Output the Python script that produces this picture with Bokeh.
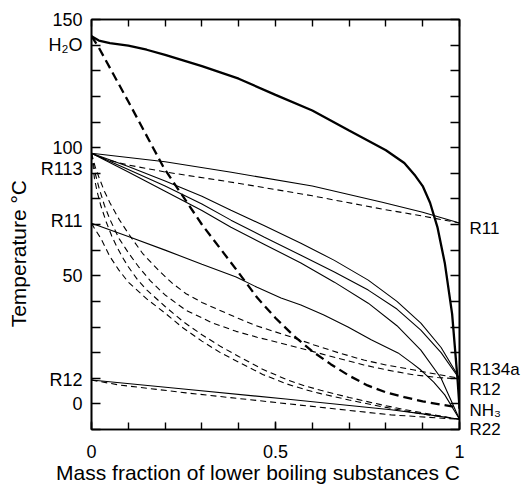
from bokeh.plotting import figure
from bokeh.models import Range1d, LinearAxis, FixedTicker
from bokeh.embed import file_html
from bokeh.resources import INLINE

# ---- data (mass fraction C, temperature degC) ----
x_h2o_liq = [0, 0.02, 0.05, 0.1, 0.15, 0.2, 0.3, 0.4, 0.5, 0.6, 0.7, 0.8, 0.85, 0.88, 0.9, 0.92, 0.94, 0.96, 0.98, 0.995, 1.0]
t_h2o_liq = [143.5, 141.8, 140.8, 139.8, 138.2, 136.2, 131.8, 126.9, 120.6, 114.5, 106.7, 99, 94, 89, 85, 78.5, 69, 55, 35, 9, -1.5]
x_h2o_vap = [0, 0.02, 0.1, 0.156, 0.197, 0.3, 0.393, 0.45, 0.5, 0.55, 0.6, 0.65, 0.7, 0.75, 0.8, 0.85, 0.9, 0.95, 1.0]
t_h2o_vap = [143.5, 139, 118, 103, 92, 70, 52.5, 41.5, 33.5, 26.5, 20.5, 15.5, 11, 7.2, 4.5, 2.6, 1.0, -0.3, -1.5]

x_r113_r11_liq = [0, 0.2, 0.38, 0.6, 0.79, 0.9, 1.0]
t_r113_r11_liq = [97.8, 94.5, 90.4, 85, 78.7, 74.8, 70.6]
x_r113_r11_vap = [0, 0.04, 0.1, 0.2, 0.39, 0.6, 0.79, 0.9, 1.0]
t_r113_r11_vap = [97.8, 95.3, 93.2, 90.5, 86.3, 81.2, 76, 73.3, 70.6]

x_r113_liq = [0, 0.1, 0.2, 0.3, 0.379, 0.47, 0.569, 0.66, 0.752, 0.83, 0.895, 0.95, 1.0]
t_r113_r134a_liq = [97.8, 92.6, 87, 81, 75.6, 69.5, 62.7, 56, 48.3, 40, 31.5, 22, 10]
t_r113_r12_liq = [97.8, 91.5, 85, 78, 71.7, 65, 58, 51.5, 44.4, 37, 28.8, 20, 9.7]
t_r113_r22_liq = [97.8, 90.5, 83, 75.5, 68.9, 62.2, 55, 47.5, 39.3, 30.5, 21, 10, -6]

x_r113_r134a_vap = [0, 0.01, 0.02, 0.035, 0.05, 0.075, 0.1, 0.14, 0.183, 0.22, 0.257, 0.3, 0.347, 0.4, 0.447, 0.528, 0.605, 0.67, 0.74, 0.8, 0.877, 0.94, 1.0]
t_r113_r134a_vap = [97.8, 92.5, 88.5, 83, 78.5, 72, 66.5, 58.5, 52, 47, 43, 39.6, 36.6, 33.3, 30.5, 26.8, 23, 20, 17.1, 15.2, 13.2, 11.5, 10]
x_r113_r12_vap = [0, 0.01, 0.02, 0.035, 0.05, 0.075, 0.1, 0.128, 0.16, 0.2, 0.257, 0.33, 0.393, 0.45, 0.515, 0.605, 0.67, 0.74, 0.8, 0.877, 0.94, 1.0]
t_r113_r12_vap = [97.8, 90, 84.5, 77.5, 72, 64.5, 59, 53.5, 48, 42.5, 36.5, 31.5, 28.3, 26, 23.7, 20.3, 17.8, 15.2, 13.3, 11.3, 10.3, 9.7]
x_r113_r22_vap = [0, 0.008, 0.015, 0.025, 0.04, 0.055, 0.07, 0.085, 0.1, 0.125, 0.15, 0.2, 0.25, 0.3, 0.35, 0.4, 0.465, 0.53, 0.58, 0.623, 0.7, 0.786, 0.85, 0.9, 0.95, 1.0]
t_r113_r22_vap = [97.8, 88, 83, 77.5, 71, 65.5, 61, 57, 53.5, 48.5, 44.5, 38, 32, 27, 22.5, 18.5, 13.5, 9.5, 7, 5.3, 2.5, -0.3, -2.2, -3.5, -4.8, -6]

x_r11_r22_liq = [0, 0.1, 0.2, 0.3, 0.393, 0.45, 0.515, 0.569, 0.63, 0.697, 0.76, 0.833, 0.87, 0.895, 0.93, 0.96, 1.0]
t_r11_r22_liq = [70.5, 65.3, 60, 54.5, 49.5, 45.5, 41.3, 38.6, 34.8, 30, 25, 19.9, 16, 13.2, 8.5, 3.5, -6]
x_r11_r22_vap = [0, 0.01, 0.025, 0.05, 0.074, 0.1, 0.15, 0.2, 0.25, 0.3, 0.35, 0.4, 0.465, 0.53, 0.58, 0.623, 0.7, 0.786, 0.85, 0.9, 0.95, 1.0]
t_r11_r22_vap = [70.5, 68, 64.7, 57.5, 52.3, 47.5, 41, 35.4, 29.5, 24.5, 20, 16.3, 11.5, 7.8, 5.6, 4, 1.5, -1, -2.7, -4, -5, -6]

x_r12_r22_liq = [0, 0.25, 0.528, 0.814, 0.9, 1.0]
t_r12_r22_liq = [9.3, 5.8, 1.9, -2.3, -3.9, -6]
x_r12_r22_vap = [0, 0.074, 0.257, 0.51, 0.814, 1.0]
t_r12_r22_vap = [9.3, 7.4, 4.3, 0.4, -4.3, -6]

# tick labels
y_numbers = [0, 50, 100, 150]
left_names = ["H\u2082O", "R113", "R11", "R12"]
left_name_t = [140, 91.5, 71.5, 9.5]
right_names = ["R11", "R134a", "R12", "NH\u2083", "R22"]
right_name_t = [68.6, 13.6, 5.5, -2.7, -10]

x_major = [0, 0.5, 1]
x_minor = [i / 10 for i in range(11)]
y_minor = list(range(-10, 151, 10))

FONT = "Liberation Sans"

p = figure(width=524, height=488, output_backend="svg", toolbar_location=None,
           x_range=Range1d(0, 1), y_range=Range1d(-10, 150),
           x_axis_location=None, y_axis_location=None,
           min_border_left=91, min_border_right=65, min_border_top=19, min_border_bottom=59)
p.xgrid.visible = False
p.ygrid.visible = False
p.outline_line_color = "black"
p.outline_line_width = 1.6
p.background_fill_color = "white"
p.border_fill_color = "white"


def style(ax, tick_in):
    ax.axis_line_color = "black"
    ax.axis_line_width = 1.6
    ax.major_tick_line_width = 1.4
    ax.minor_tick_line_width = 1.4
    ax.major_tick_out = 0
    ax.minor_tick_out = 0
    ax.major_tick_in = tick_in
    ax.minor_tick_in = tick_in
    ax.major_label_text_font = FONT
    ax.major_label_text_color = "black"
    ax.axis_label_text_font = FONT
    ax.axis_label_text_font_style = "normal"
    ax.axis_label_text_color = "black"
    return ax


# bottom axis: numbers + x title
bottom = style(LinearAxis(ticker=FixedTicker(ticks=x_major, minor_ticks=x_minor)), 7)
bottom.major_tick_in = 8
bottom.major_label_text_font_size = "18px"
bottom.major_label_standoff = 15
bottom.major_label_overrides = {0: "0", 0.5: "0.5", 1: "1"}
bottom.axis_label = "Mass fraction of lower boiling substances C" + "\u00a0" * 6
bottom.axis_label_text_font_size = "21px"
bottom.axis_label_standoff = 0

# top axis: ticks only
top = style(LinearAxis(ticker=FixedTicker(ticks=[], minor_ticks=x_minor)), 7)

# left axis: numbers and substance names as tick labels, ticks every 10
left_ticks = y_numbers + left_name_t
left_over = {v: str(v) for v in y_numbers}
left_over.update({t: n for t, n in zip(left_name_t, left_names)})
left = style(LinearAxis(ticker=FixedTicker(ticks=left_ticks, minor_ticks=y_minor)), 9)
left.major_tick_line_color = None
left.major_label_overrides = left_over
left.major_label_text_font_size = "18px"
left.major_label_standoff = 9
left.axis_label = "Temperature \u00b0C" + "\u00a0" * 10
left.axis_label_text_font_size = "21px"
left.axis_label_standoff = 8

# right axis: substance names, ticks every 10
right = style(LinearAxis(ticker=FixedTicker(ticks=right_name_t, minor_ticks=y_minor)), 9)
right.major_tick_line_color = None
right.major_label_overrides = {t: n for t, n in zip(right_name_t, right_names)}
right.major_label_text_font_size = "17px"
right.major_label_standoff = 10

p.add_layout(bottom, "below")
p.add_layout(top, "above")
p.add_layout(left, "left")
p.add_layout(right, "right")

thin = 1.1
thick = 2.3
dash_thin = "6 4"
dash_thick = "9 5"

# H2O / NH3
p.line(x_h2o_liq, t_h2o_liq, line_color="black", line_width=thick)
p.line(x_h2o_vap, t_h2o_vap, line_color="black", line_width=thick, line_dash=dash_thick)
# R113 / R11
p.line(x_r113_r11_liq, t_r113_r11_liq, line_color="black", line_width=thin)
p.line(x_r113_r11_vap, t_r113_r11_vap, line_color="black", line_width=thin, line_dash=dash_thin)
# R113 / R134a, R12, R22
for t in (t_r113_r134a_liq, t_r113_r12_liq, t_r113_r22_liq):
    p.line(x_r113_liq, t, line_color="black", line_width=thin)
p.line(x_r113_r134a_vap, t_r113_r134a_vap, line_color="black", line_width=thin, line_dash=dash_thin)
p.line(x_r113_r12_vap, t_r113_r12_vap, line_color="black", line_width=thin, line_dash=dash_thin)
p.line(x_r113_r22_vap, t_r113_r22_vap, line_color="black", line_width=thin, line_dash=dash_thin)
# R11 / R22
p.line(x_r11_r22_liq, t_r11_r22_liq, line_color="black", line_width=thin)
p.line(x_r11_r22_vap, t_r11_r22_vap, line_color="black", line_width=thin, line_dash=dash_thin)
# R12 / R22
p.line(x_r12_r22_liq, t_r12_r22_liq, line_color="black", line_width=thin)
p.line(x_r12_r22_vap, t_r12_r22_vap, line_color="black", line_width=thin, line_dash=dash_thin)

open("out.html", "w").write(file_html(p, INLINE))
